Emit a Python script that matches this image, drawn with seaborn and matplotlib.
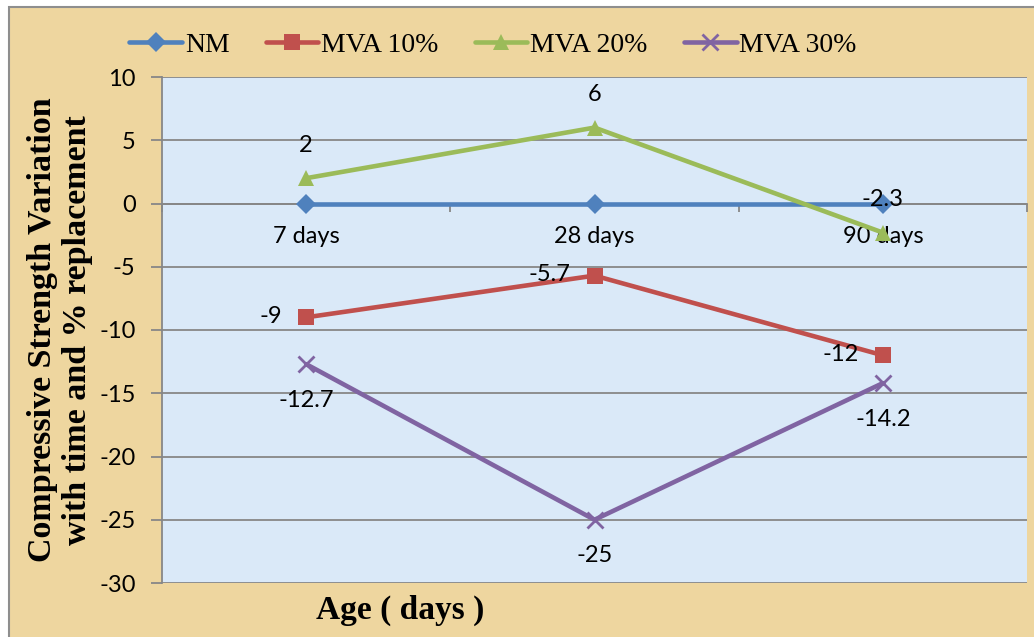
import matplotlib
matplotlib.use("Agg")
import matplotlib.pyplot as plt
from matplotlib.patches import Rectangle
import pandas as pd
import seaborn as sns

# Data: compressive strength variation (%) by age
ages = ["7 days", "28 days", "90 days"]
nm = [0, 0, 0]
mva10 = [-9, -5.7, -12]
mva20 = [2, 6, -2.3]
mva30 = [-12.7, -25, -14.2]
series_names = ["NM", "MVA 10%", "MVA 20%", "MVA 30%"]
y_ticks = [10, 5, 0, -5, -10, -15, -20, -25, -30]

sns.set_theme(style="white")
plt.rcParams["font.family"] = ["Lato", "DejaVu Sans"]
plt.rcParams["text.color"] = "black"
plt.rcParams["axes.labelcolor"] = "black"
plt.rcParams["axes.unicode_minus"] = False

W, H = 1034, 637
fig = plt.figure(figsize=(W / 100, H / 100), dpi=100, facecolor="white")

# parchment-coloured chart area with grey border
fig.patches.append(Rectangle((9 / W, -0.02), 1.0, 1 - 7 / H + 0.02,
                             transform=fig.transFigure, facecolor="#EED69F",
                             edgecolor="#8E8E8E", lw=1.5, zorder=-10))

ax = fig.add_axes([162 / W, 1 - 583 / H, (1027 - 162) / W, (583 - 77) / H])
ax.set_facecolor("#DAE9F8")

styles = {
    "NM": dict(color="#4F81BD", marker="D", markersize=10),
    "MVA 10%": dict(color="#C0504D", marker="s", markersize=11),
    "MVA 20%": dict(color="#9BBB59", marker="^", markersize=12),
    "MVA 30%": dict(color="#8064A2", marker="x", markersize=12, markeredgewidth=2),
}

df = pd.DataFrame({
    "pos": [0, 1, 2] * len(series_names),
    "value": nm + mva10 + mva20 + mva30,
    "series": [s for s in series_names for _ in ages],
})

for name in series_names:
    sub = df[df["series"] == name]
    st = styles[name]
    sns.lineplot(data=sub, x="pos", y="value", ax=ax, label=name, legend=False,
                 color=st["color"], marker=st["marker"], markersize=st["markersize"],
                 markeredgewidth=st.get("markeredgewidth", 0),
                 markeredgecolor=st["color"], linewidth=3.3, zorder=3)

ax.set_xlim(-0.5, 2.5)
ax.set_ylim(-30, 10)
ax.set_yticks(y_ticks)
ax.yaxis.grid(True, color="#878787", linewidth=1.3, zorder=1)
ax.set_axisbelow(True)

for side in ("top", "right"):
    ax.spines[side].set_visible(False)
ax.spines["left"].set_color("#878787")
ax.spines["left"].set_linewidth(1.3)
ax.spines["bottom"].set_position(("data", 0))
ax.spines["bottom"].set_color("#878787")
ax.spines["bottom"].set_linewidth(1.3)

# category boundaries as ticks, names centred between them
ax.set_xticks([-0.5, 0.5, 1.5, 2.5])
ax.set_xticklabels([])
ax.set_xticks([0, 1, 2], minor=True)
ax.set_xticklabels(ages, minor=True)
ax.tick_params(axis="x", which="major", direction="out", length=6, width=1.3,
               color="#878787", bottom=True)
ax.tick_params(axis="x", which="minor", length=0, pad=16, labelsize=17,
               labelcolor="black")
ax.tick_params(axis="y", direction="out", length=8, width=1.3, color="#878787",
               left=True, pad=11, labelsize=17, labelcolor="black")
ax.set_xlabel("")
ax.set_ylabel("")

# value labels
lab_font = dict(fontsize=17, color="black", family=["Lato", "DejaVu Sans"])
for i, v in enumerate(mva20):
    ax.annotate(f"{v:g}", (i, v), xytext=(0, 33), textcoords="offset pixels",
                ha="center", va="center", zorder=5, **lab_font)
for i, v in enumerate(mva10):
    ax.annotate(f"{v:g}", (i, v), xytext=(-24, 1), textcoords="offset pixels",
                ha="right", va="center", zorder=5, **lab_font)
for i, v in enumerate(mva30):
    ax.annotate(f"{v:g}", (i, v), xytext=(0, -36), textcoords="offset pixels",
                ha="center", va="center", zorder=5, **lab_font)

serif = ["Liberation Serif", "DejaVu Serif"]
fig.text(60 / W, 1 - 330 / H,
         "Compressive Strength Variation\nwith time and % replacement",
         rotation=90, ha="center", va="center", multialignment="center",
         fontsize=24.5, fontweight="bold", family=serif, color="black")
fig.text(400 / W, 1 - 610 / H, "Age ( days )", ha="center", va="center",
         fontsize=24, fontweight="bold", family=serif, color="black")

handles, labels = ax.get_legend_handles_labels()
fig.legend(handles, labels, loc="center", bbox_to_anchor=(493 / W, 1 - 45 / H),
           ncol=4, frameon=False, handlelength=1.9, handletextpad=0.1,
           columnspacing=1.3, prop={"family": serif, "size": 20},
           labelcolor="black")

fig.savefig("out.png", dpi=100)
